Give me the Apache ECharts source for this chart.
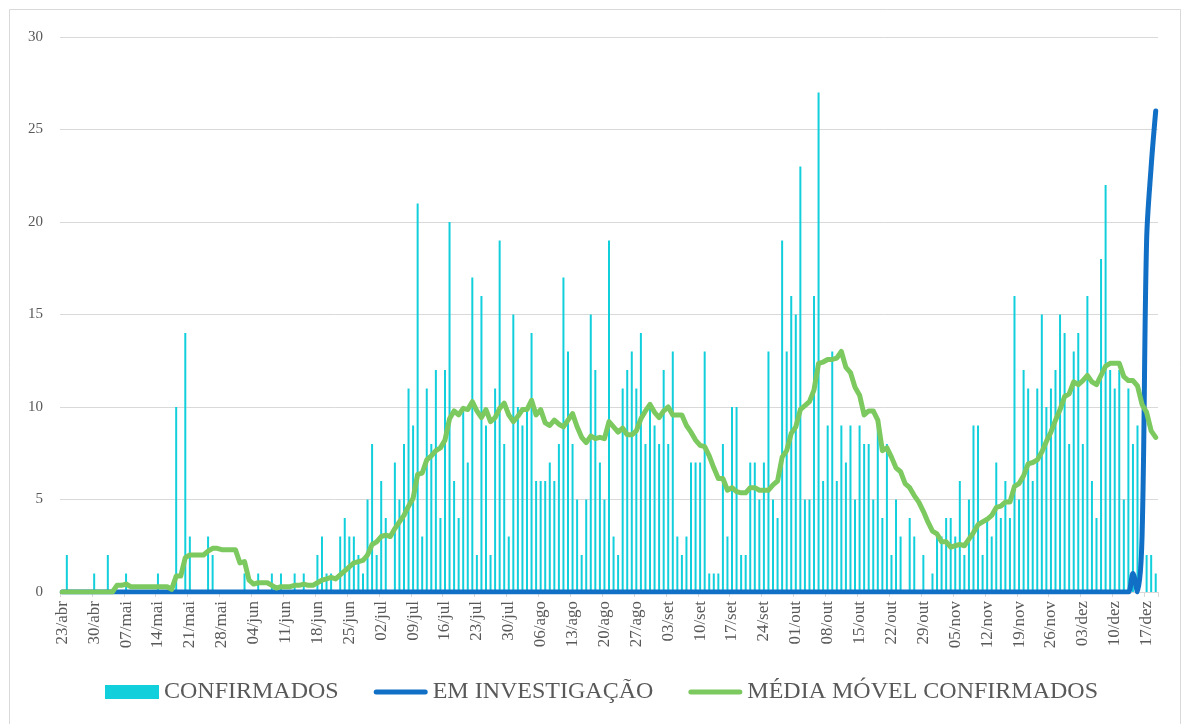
<!DOCTYPE html>
<html>
<head>
<meta charset="utf-8">
<script src="https://cdn.jsdelivr.net/npm/echarts@6/dist/echarts.min.js"></script>
<style>
html,body{margin:0;padding:0;background:#fff;}
#chart{width:1184px;height:724px;}
</style>
</head>
<body>
<div id="chart"></div>
<script>
// Categories: daily dates from 23/abr to 19/dez
const startDate = [2020, 3, 23];
const dayCount = 241;
const monthNames = ['jan','fev','mar','abr','mai','jun','jul','ago','set','out','nov','dez'];
const yTicks = [0, 5, 10, 15, 20, 25, 30];

// CONFIRMADOS (daily)
const confirmados = [
0,2,0,0,0,0,0,1,0,0, 2,0,0,0,1,0,0,0,0,0,
0,1,0,0,0,10,0,14,3,0, 0,0,3,2,0,0,0,0,0,0,
1,0,0,1,0,0,1,0,1,0, 0,1,0,1,0,0,2,3,1,1,
0,3,4,3,3,2,1,5,8,2, 6,4,0,7,5,8,11,9,21,3,
11,8,12,4,12,20,6,4,10,7, 17,2,16,9,2,11,19,8,3,15,
10,9,10,14,6,6,6,7,6,8, 17,13,8,5,2,5,15,12,7,5,
19,3,2,11,12,13,11,14,8,10, 9,8,12,8,13,3,2,3,7,7,
7,13,1,1,1,8,3,10,10,2, 2,7,7,5,7,13,5,4,19,13,
16,15,23,5,5,16,27,6,9,13, 6,9,7,9,5,9,8,8,5,9,
4,8,2,5,3,0,4,3,0,2, 0,1,3,3,4,4,3,6,2,5,
9,9,2,4,3,7,4,6,4,16, 5,12,11,6,11,15,10,11,12,15,
14,8,13,14,8,16,6,4,18,22, 12,11,12,5,11,8,9,0,2,2,
1
];

// EM INVESTIGAÇÃO
const emInvestigacao = [];
const emInvestigacaoEnd = [1,0,3,19,23,26]; // values for the last 6 days
for (let i = 0; i < dayCount - emInvestigacaoEnd.length; i++) emInvestigacao.push(0);
emInvestigacaoEnd.forEach(v => emInvestigacao.push(v));

// MÉDIA MÓVEL CONFIRMADOS
const mediaMovel = [
0,0,0,0,0,0,0,0,0,0, 0,0,0.36,0.36,0.43,0.29,0.29,0.29,0.29,0.29,
0.29,0.29,0.29,0.29,0.14,0.86,0.86,1.86,2.0,2.0, 2.0,2.0,2.21,2.36,2.36,2.29,2.29,2.29,2.29,1.57,
1.64,0.64,0.43,0.5,0.5,0.5,0.36,0.21,0.29,0.29, 0.29,0.36,0.36,0.43,0.36,0.36,0.5,0.64,0.71,0.79,
0.71,0.93,1.14,1.36,1.57,1.64,1.71,2.0,2.57,2.71, 3.0,3.07,3.0,3.43,3.79,4.14,4.64,5.07,6.36,6.43,
7.14,7.36,7.64,7.79,8.21,9.36,9.79,9.57,9.93,9.86, 10.29,9.79,9.43,9.86,9.21,9.43,9.93,10.21,9.57,9.21,
9.5,9.86,9.86,10.36,9.57,9.86,9.14,9.0,9.29,9.07, 8.93,9.29,9.64,8.93,8.36,8.07,8.43,8.29,8.36,8.29,
9.21,8.93,8.64,8.86,8.5,8.5,8.71,9.36,9.79,10.14, 9.71,9.43,9.79,10.0,9.57,9.57,9.57,9.0,8.64,8.21,
7.93,7.86,7.36,6.71,6.14,6.14,5.5,5.64,5.43,5.36, 5.36,5.64,5.64,5.5,5.5,5.5,5.79,6.0,7.29,7.64,
8.57,8.93,9.86,10.07,10.29,10.93,12.36,12.43,12.57,12.57, 12.64,13.0,12.14,11.86,11.07,10.64,9.57,9.79,9.79,9.29,
7.64,7.79,7.29,6.71,6.5,5.86,5.64,5.21,4.86,4.36, 3.79,3.29,3.14,2.71,2.71,2.43,2.5,2.57,2.5,2.86,
3.21,3.64,3.79,3.93,4.14,4.57,4.64,4.86,4.86,5.71, 5.86,6.29,6.93,7.0,7.14,7.57,8.14,8.64,9.29,9.86,
10.57,10.71,11.36,11.21,11.43,11.71,11.36,11.21,11.71,12.21, 12.36,12.36,12.36,11.64,11.43,11.43,11.14,10.14,9.71,8.71,
8.36
];

const seriesNames = ['CONFIRMADOS', 'EM INVESTIGAÇÃO', 'MÉDIA MÓVEL CONFIRMADOS'];
const colors = ['#12cfdc', '#1170c6', '#7cc95f'];

function pad(n){ return (n < 10 ? '0' : '') + n; }
const categories = [];
{
  const d = new Date(startDate[0], startDate[1], startDate[2]);
  for (let i = 0; i < dayCount; i++) {
    categories.push(pad(d.getDate()) + '/' + monthNames[d.getMonth()]);
    d.setDate(d.getDate() + 1);
  }
}

const FONT = '"Liberation Serif", "DejaVu Serif", serif';
const LINE_ICON = 'path://M0,2.5 A2.5,2.5 0 0 1 2.5,0 L51.5,0 A2.5,2.5 0 0 1 51.5,5 L2.5,5 A2.5,2.5 0 0 1 0,2.5 Z';
const chart = echarts.init(document.getElementById('chart'), null, {renderer: 'canvas'});
chart.setOption({
  animation: false,
  backgroundColor: '#ffffff',
  graphic: [{
    type: 'rect', left: 7, top: 7, z: -10,
    shape: {width: 1171, height: 716},
    style: {fill: 'none', stroke: '#d9d9d9', lineWidth: 1}
  }],
  grid: {left: 60, right: 26, top: 37, bottom: 132},
  legend: {
    bottom: 15, left: 100,
    itemWidth: 54, itemHeight: 14, itemGap: 35,
    symbolKeepAspect: true,
    textStyle: {fontFamily: FONT, fontSize: 24, color: '#595959'},
    data: [
      {name: seriesNames[0], icon: 'rect'},
      {name: seriesNames[1], icon: LINE_ICON},
      {name: seriesNames[2], icon: LINE_ICON}
    ]
  },
  xAxis: {
    type: 'category',
    data: categories,
    boundaryGap: true,
    axisLine: {show: true, lineStyle: {color: '#d9d9d9', width: 1}},
    axisTick: {show: true, interval: 6, length: 5, lineStyle: {color: '#d9d9d9'}},
    axisLabel: {interval: 6, rotate: 90, margin: 9, fontFamily: FONT, fontSize: 17, color: '#595959'}
  },
  yAxis: {
    type: 'value',
    min: yTicks[0], max: yTicks[yTicks.length - 1], interval: 5,
    axisLine: {show: false},
    axisTick: {show: false},
    axisLabel: {margin: 17, fontFamily: FONT, fontSize: 15, color: '#595959'},
    splitLine: {lineStyle: {color: '#d9d9d9', width: 1}}
  },
  series: [
    {
      name: seriesNames[0], type: 'bar', data: confirmados,
      barWidth: 2, itemStyle: {color: colors[0]}
    },
    {
      name: seriesNames[1], type: 'line', data: emInvestigacao,
      symbol: 'none', smooth: 0.35,
      lineStyle: {color: colors[1], width: 5, cap: 'round', join: 'round'},
      itemStyle: {color: colors[1]}
    },
    {
      name: seriesNames[2], type: 'line', data: mediaMovel,
      symbol: 'none', smooth: false,
      lineStyle: {color: colors[2], width: 5, cap: 'round', join: 'round'},
      itemStyle: {color: colors[2]}
    }
  ]
});
</script>
</body>
</html>
